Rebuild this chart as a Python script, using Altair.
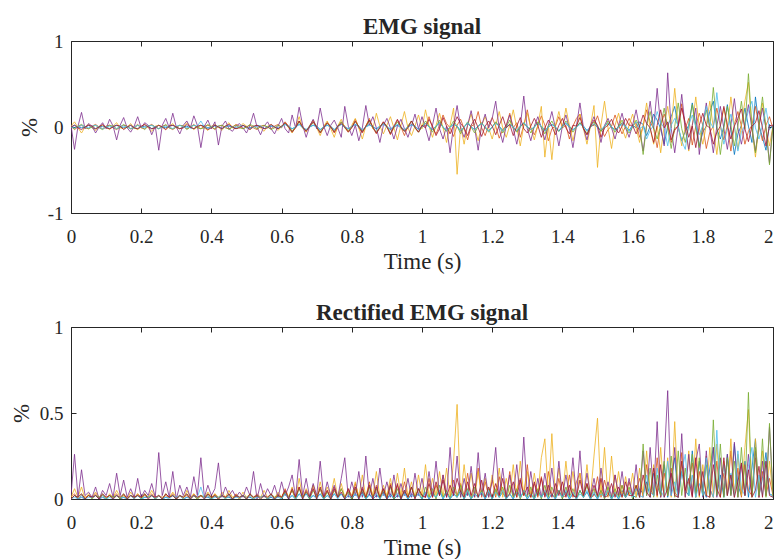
import altair as alt
import pandas as pd

# ---- data, one sample every 0.01 s from 0 to 2 s ----
DT = 0.01
NAMES = ["1", "2", "3", "4", "5", "6", "7"]
COLORS = ["#0072BD", "#D95319", "#EDB120", "#7E2F8E", "#77AC30", "#4DBEEE", "#A2142F"]
X_TICKS = [0, 0.2, 0.4, 0.6, 0.8, 1, 1.2, 1.4, 1.6, 1.8, 2]
Y_TICKS_EMG = [-1, 0, 1]
Y_TICKS_RECT = [0, 0.5, 1]

blue = [
    0.00, 0.02, 0.00, -0.01, 0.00, 0.02, -0.01, -0.02, 0.00, 0.01, 0.00, -0.02, 0.01, 0.02, 0.00, -0.01, 0.00, 0.02, -0.01, -0.02,
    0.00, 0.01, 0.01, -0.02, 0.00, 0.02, 0.00, -0.01, 0.01, 0.02, 0.00, -0.02, 0.00, 0.01, -0.01, -0.02, 0.00, 0.02, 0.01, -0.01,
    0.00, 0.02, 0.00, -0.02, 0.01, 0.01, 0.00, -0.02, 0.00, 0.02, -0.01, -0.01, 0.00, 0.02, 0.01, -0.02, 0.00, 0.01, 0.00, -0.02,
    0.01, 0.03, 0.00, -0.02, 0.00, 0.03, -0.01, -0.03, 0.00, 0.02, 0.01, -0.03, 0.00, 0.02, 0.00, -0.03, 0.01, 0.03, 0.00, -0.02,
    0.00, 0.03, 0.01, -0.04, 0.00, 0.03, 0.00, -0.02, 0.01, 0.04, 0.00, -0.03, 0.00, 0.02, -0.01, -0.04, 0.00, 0.03, 0.01, -0.03,
    0.00, 0.04, 0.00, -0.03, 0.01, 0.05, 0.00, -0.04, 0.00, 0.03, 0.01, -0.05, 0.00, 0.04, 0.00, -0.03, 0.01, 0.04, 0.00, -0.04,
    0.00, 0.05, 0.01, -0.04, 0.00, 0.03, 0.00, -0.05, 0.01, 0.04, 0.00, -0.03, 0.00, 0.05, 0.01, -0.04, 0.00, 0.03, 0.00, -0.05,
    0.01, 0.04, 0.00, -0.03, 0.00, 0.05, 0.01, -0.04, 0.00, 0.03, 0.00, -0.05, 0.01, 0.04, 0.00, -0.03, 0.00, 0.05, 0.01, -0.04,
    0.02, -0.01, 0.06, 0.03, -0.10, 0.01, 0.15, 0.08, -0.02, -0.20, 0.01, 0.12, 0.24, -0.01, -0.16, -0.05, 0.02, 0.28, 0.03, -0.22,
    -0.06, 0.01, 0.18, 0.30, -0.02, -0.14, 0.01, 0.26, -0.03, -0.32, -0.08, 0.02, 0.22, 0.01, -0.18, 0.35, 0.02, -0.12, -0.27, 0.03,
    -0.02,
]
orange = [
    0.01, -0.03, 0.00, 0.02, -0.01, -0.02, 0.01, 0.03, 0.00, -0.02, 0.01, 0.02, -0.01, -0.03, 0.00, 0.02, 0.01, -0.02, 0.00, 0.03,
    -0.01, -0.02, 0.01, 0.03, 0.00, -0.02, 0.01, 0.02, -0.01, -0.03, 0.00, 0.02, 0.01, -0.02, 0.00, 0.03, -0.01, -0.02, 0.01, 0.02,
    0.00, -0.03, 0.01, 0.02, -0.01, -0.02, 0.00, 0.03, 0.01, -0.02, 0.00, 0.02, -0.01, -0.03, 0.01, 0.02, 0.00, -0.02, 0.01, 0.03,
    -0.01, 0.06, 0.01, -0.05, 0.00, 0.07, -0.01, -0.04, 0.01, 0.08, -0.01, -0.06, 0.00, 0.05, 0.01, -0.07, -0.01, 0.06, 0.01, -0.05,
    0.00, 0.09, -0.01, -0.07, 0.01, 0.10, -0.01, -0.08, 0.00, 0.06, 0.01, -0.09, -0.01, 0.08, 0.00, -0.10, 0.01, 0.07, -0.01, -0.06,
    0.02, 0.01, 0.12, -0.01, -0.08, 0.02, 0.14, 0.04, -0.01, -0.11, 0.02, 0.09, -0.02, -0.15, 0.01, 0.03, 0.18, -0.01, -0.10, 0.02,
    0.11, 0.01, -0.13, -0.03, 0.02, 0.16, -0.01, 0.05, -0.12, 0.02, 0.20, -0.01, -0.09, 0.01, 0.13, 0.02, -0.16, -0.02, 0.01, 0.12,
    -0.01, 0.02, -0.14, 0.01, 0.10, 0.15, -0.02, -0.09, 0.01, 0.02, 0.13, -0.01, -0.11, -0.03, 0.01, 0.14, 0.02, -0.08, 0.01, 0.10,
    0.02, 0.05, -0.12, 0.01, 0.20, 0.06, -0.02, -0.24, 0.01, 0.15, 0.02, -0.18, -0.04, 0.01, 0.27, -0.02, 0.10, -0.21, 0.01, 0.16,
    0.02, -0.25, -0.06, 0.01, 0.22, 0.01, -0.15, 0.02, -0.28, 0.03, 0.18, 0.01, -0.20, -0.05, 0.02, 0.24, 0.01, -0.16, 0.02, 0.12,
    -0.02,
]
yellow = [
    0.01, 0.06, -0.01, -0.07, 0.00, 0.03, -0.01, -0.04, 0.01, 0.02, 0.00, -0.03, 0.01, 0.05, -0.01, -0.02, 0.00, 0.04, -0.01, -0.03,
    0.00, 0.03, -0.01, -0.05, 0.01, 0.02, 0.00, -0.03, 0.01, 0.04, -0.01, -0.02, 0.00, 0.05, 0.01, -0.03, 0.00, 0.02, -0.01, -0.04,
    0.01, 0.03, 0.00, -0.04, 0.01, 0.05, -0.01, -0.02, 0.00, 0.04, 0.01, -0.03, 0.00, 0.02, -0.01, -0.05, 0.01, 0.03, 0.00, -0.04,
    0.01, 0.05, -0.01, -0.07, 0.00, 0.12, -0.01, -0.06, 0.02, 0.08, -0.01, -0.10, 0.01, 0.07, -0.02, -0.12, 0.01, 0.09, -0.01, -0.06,
    0.02, 0.10, -0.01, -0.14, 0.01, 0.09, -0.02, 0.16, 0.01, -0.08, 0.02, 0.12, -0.01, -0.15, 0.02, 0.18, -0.01, -0.10, 0.01, 0.14,
    -0.02, 0.20, 0.01, -0.12, 0.02, 0.16, -0.01, -0.18, 0.02, 0.22, -0.55, 0.01, -0.20, 0.02, 0.15, -0.01, -0.16, 0.02, 0.12, -0.01,
    -0.14, 0.02, 0.18, -0.01, -0.12, 0.02, 0.20, -0.01, -0.22, 0.02, 0.16, -0.01, -0.15, 0.02, 0.24, -0.35, 0.01, -0.38, 0.02, 0.18,
    -0.01, 0.22, 0.02, -0.16, 0.01, 0.15, -0.02, -0.20, 0.01, 0.25, -0.47, 0.02, 0.30, -0.01, -0.25, 0.02, 0.16, -0.01, -0.13, 0.02,
    0.15, -0.01, -0.18, 0.02, 0.28, -0.02, -0.20, 0.01, -0.30, 0.02, 0.24, -0.01, 0.45, 0.02, -0.22, 0.01, -0.28, 0.02, 0.35, -0.01,
    -0.20, 0.02, 0.30, -0.01, -0.32, 0.02, 0.22, -0.02, 0.35, 0.01, -0.26, 0.02, 0.30, 0.52, -0.02, -0.35, 0.01, 0.28, -0.02, -0.22,
    0.02,
]
purple = [
    0.02, -0.26, 0.01, 0.17, -0.02, 0.04, 0.01, -0.07, 0.00, 0.05, -0.02, 0.09, 0.01, -0.15, 0.02, 0.11, -0.01, -0.06, 0.01, 0.12,
    -0.01, 0.05, 0.02, -0.09, 0.01, -0.27, 0.02, 0.10, -0.01, 0.16, 0.00, -0.08, 0.02, 0.07, -0.01, 0.13, 0.02, -0.24, 0.01, 0.08,
    -0.02, 0.06, -0.21, 0.01, 0.07, -0.02, -0.05, 0.01, 0.04, -0.01, -0.07, 0.02, 0.16, 0.00, -0.09, 0.01, 0.06, -0.02, -0.08, 0.01,
    0.10, -0.02, -0.07, 0.14, -0.01, 0.23, 0.02, -0.12, 0.01, 0.09, -0.02, 0.22, 0.01, -0.10, 0.02, 0.08, -0.01, -0.12, 0.24, 0.01,
    -0.10, 0.02, -0.16, -0.01, 0.25, 0.02, 0.12, -0.01, -0.18, 0.02, 0.10, -0.01, -0.14, 0.01, 0.09, -0.02, -0.12, 0.01, 0.15, -0.02,
    0.12, -0.01, -0.16, 0.02, 0.22, -0.02, -0.14, 0.01, -0.30, 0.02, 0.25, -0.01, -0.12, 0.02, 0.19, -0.01, -0.27, 0.02, 0.15, -0.01,
    0.10, 0.30, -0.02, -0.18, 0.01, 0.14, -0.02, -0.20, 0.01, 0.36, -0.02, -0.16, 0.01, 0.12, -0.01, -0.15, 0.02, 0.18, -0.01, -0.22,
    0.01, 0.14, -0.02, -0.24, 0.01, 0.28, -0.01, -0.15, 0.02, 0.12, -0.01, -0.18, 0.02, 0.10, -0.01, -0.14, 0.02, 0.16, -0.01, -0.12,
    0.02, 0.20, -0.01, -0.28, 0.02, 0.30, -0.02, 0.45, 0.01, -0.22, 0.63, -0.02, -0.30, 0.02, 0.38, -0.01, -0.26, 0.02, 0.22, -0.32,
    0.01, 0.28, -0.02, -0.30, 0.01, 0.24, -0.02, -0.26, 0.02, 0.33, -0.01, -0.20, 0.02, 0.26, -0.02, -0.28, 0.01, 0.22, -0.02, -0.42,
    0.03,
]
green = [
    0.00, -0.02, 0.01, 0.03, 0.00, -0.02, 0.00, 0.02, -0.01, -0.03, 0.00, 0.02, 0.01, -0.02, 0.00, 0.03, 0.00, -0.02, -0.01, 0.02,
    0.00, -0.03, 0.01, 0.02, 0.00, -0.02, 0.00, 0.03, -0.01, -0.02, 0.00, 0.02, 0.01, -0.03, 0.00, 0.02, 0.00, -0.02, -0.01, 0.03,
    0.00, -0.02, 0.01, 0.02, 0.00, -0.03, 0.00, 0.02, -0.01, -0.02, 0.00, 0.03, 0.01, -0.02, 0.00, 0.02, 0.00, -0.03, -0.01, 0.02,
    0.00, 0.04, 0.01, -0.05, 0.00, 0.06, -0.01, -0.04, 0.00, 0.05, 0.01, -0.06, 0.00, 0.04, 0.00, -0.05, 0.01, 0.06, -0.01, -0.04,
    0.00, 0.06, 0.01, -0.05, 0.00, 0.07, -0.01, -0.06, 0.00, 0.05, 0.01, -0.07, 0.00, 0.06, 0.00, -0.05, 0.01, 0.07, -0.01, -0.06,
    0.00, 0.07, 0.01, -0.06, 0.00, 0.08, -0.01, -0.05, 0.00, 0.07, 0.01, -0.08, 0.00, 0.06, 0.00, -0.07, 0.01, 0.05, -0.01, -0.06,
    0.00, 0.06, 0.01, -0.07, 0.00, 0.08, -0.01, -0.06, 0.00, 0.05, 0.01, -0.07, 0.00, 0.06, 0.00, -0.08, 0.01, 0.07, -0.01, -0.05,
    0.00, 0.07, 0.01, -0.06, 0.00, 0.05, -0.01, -0.08, 0.00, 0.06, 0.01, -0.05, 0.00, 0.07, 0.00, -0.06, 0.01, 0.08, -0.01, -0.07,
    0.00, 0.08, 0.01, -0.32, 0.02, 0.18, -0.01, -0.14, 0.02, 0.22, -0.02, -0.25, 0.01, 0.28, -0.02, -0.18, 0.02, 0.26, -0.01, -0.24,
    0.02, 0.20, -0.01, 0.46, 0.02, -0.32, -0.01, 0.24, 0.02, -0.22, 0.01, 0.30, -0.02, 0.62, 0.01, -0.30, 0.02, 0.35, -0.01, -0.44,
    0.01,
]
cyan = [
    0.00, -0.01, 0.00, 0.02, 0.00, -0.01, 0.01, 0.02, 0.00, -0.02, 0.00, 0.01, 0.00, -0.02, 0.01, 0.01, 0.00, -0.02, 0.00, 0.02,
    0.00, -0.01, 0.01, 0.02, 0.00, -0.02, 0.00, 0.01, 0.00, -0.02, 0.01, 0.02, 0.00, -0.01, 0.00, 0.02, 0.01, 0.07, 0.00, -0.02,
    0.00, 0.01, 0.01, -0.02, 0.00, 0.02, 0.00, -0.01, 0.01, 0.02, 0.00, -0.02, 0.00, 0.01, 0.01, -0.02, 0.00, 0.02, 0.00, -0.01,
    0.00, 0.03, 0.01, -0.02, 0.00, 0.03, 0.00, -0.03, 0.01, 0.02, 0.00, -0.03, 0.00, 0.02, 0.01, -0.03, 0.00, 0.03, 0.00, -0.02,
    0.01, 0.03, 0.00, -0.03, 0.00, 0.02, 0.01, -0.03, 0.00, 0.03, 0.00, -0.02, 0.01, 0.03, 0.00, -0.03, 0.00, 0.02, 0.01, -0.03,
    0.00, 0.04, 0.00, -0.03, 0.01, 0.05, 0.00, -0.04, 0.00, 0.03, 0.01, -0.04, 0.00, 0.05, 0.00, -0.03, 0.01, 0.04, 0.00, -0.05,
    0.00, 0.04, 0.01, -0.05, 0.00, 0.03, 0.00, -0.04, 0.01, 0.05, 0.00, -0.03, 0.00, 0.04, 0.01, -0.05, 0.00, 0.03, 0.00, -0.04,
    0.01, 0.05, 0.00, -0.04, 0.00, 0.03, 0.01, -0.05, 0.00, 0.04, 0.00, -0.03, 0.01, 0.05, 0.00, -0.04, 0.00, 0.03, 0.01, -0.05,
    0.01, 0.06, -0.02, 0.01, -0.14, -0.04, 0.02, 0.18, 0.05, -0.01, -0.22, 0.02, 0.10, 0.01, -0.16, -0.26, 0.02, 0.14, 0.01, -0.09,
    0.02, 0.24, 0.06, -0.01, 0.40, 0.03, -0.20, -0.02, 0.15, 0.01, -0.28, -0.06, 0.02, 0.19, 0.30, -0.01, -0.14, 0.02, 0.22, -0.03,
    0.01,
]
darkred = [
    0.00, 0.02, -0.01, -0.03, 0.00, 0.02, 0.01, -0.02, 0.00, 0.03, -0.01, -0.02, 0.00, 0.02, 0.01, -0.03, 0.00, 0.02, -0.01, -0.02,
    0.01, 0.03, 0.00, -0.02, -0.01, 0.02, 0.00, -0.03, 0.01, 0.02, 0.00, -0.02, -0.01, 0.03, 0.00, -0.02, 0.01, 0.02, 0.00, -0.03,
    -0.01, 0.02, 0.00, -0.02, 0.01, 0.03, 0.00, -0.02, -0.01, 0.02, 0.00, -0.03, 0.01, 0.02, 0.00, -0.02, -0.01, 0.03, 0.00, -0.02,
    0.01, 0.05, 0.00, -0.06, -0.01, 0.07, 0.00, -0.05, 0.01, 0.06, 0.00, -0.07, -0.01, 0.05, 0.00, -0.06, 0.01, 0.04, 0.00, -0.06,
    -0.01, 0.07, 0.00, -0.06, 0.01, 0.08, 0.00, -0.07, -0.01, 0.06, 0.00, -0.08, 0.01, 0.09, 0.00, -0.05, -0.01, 0.07, 0.00, -0.06,
    0.02, -0.01, 0.09, 0.01, -0.10, -0.02, 0.11, 0.01, -0.08, 0.02, 0.12, 0.04, -0.01, -0.10, 0.02, 0.09, -0.01, -0.11, 0.01, 0.07,
    0.01, -0.09, 0.02, 0.12, -0.01, 0.03, -0.10, 0.01, 0.11, -0.02, -0.07, 0.01, 0.10, 0.02, -0.12, -0.01, 0.08, 0.01, -0.09, 0.02,
    0.10, -0.01, -0.08, 0.02, 0.01, 0.11, -0.02, -0.09, 0.01, 0.08, 0.02, -0.12, -0.01, 0.02, 0.09, -0.01, -0.07, 0.01, 0.10, 0.02,
    0.02, -0.08, 0.01, 0.14, 0.04, -0.01, -0.18, 0.02, 0.20, -0.01, 0.06, -0.15, -0.02, 0.01, 0.22, 0.05, -0.12, 0.01, -0.24, 0.02,
    0.16, 0.02, -0.01, -0.20, -0.06, 0.01, 0.24, 0.02, -0.14, 0.01, 0.10, 0.21, -0.02, -0.17, 0.01, 0.05, 0.19, -0.01, -0.22, 0.02,
    0.01,
]

SERIES = [blue, orange, yellow, purple, green, cyan, darkred]

rows = []
for name, vals in zip(NAMES, SERIES):
    for i, v in enumerate(vals):
        rows.append({"t": round(i * DT, 2), "v": v, "s": name})
df = pd.DataFrame(rows)

# ---- styling ----
FONT = "Liberation Serif"
INK = "#262626"
TICK = 5
LABEL_EXPR = "'' + datum.value"


def x_bottom():
    return alt.Axis(orient="bottom", values=X_TICKS, labelExpr=LABEL_EXPR, offset=-TICK,
                    domain=False, grid=False, tickSize=TICK, tickColor=INK,
                    labelColor=INK, labelFont=FONT, labelFontSize=19, labelPadding=14,
                    labelFlush=False,
                    labelAlign={"expr": "datum.value == 2 ? 'right' : 'center'"},
                    title="Time (s)", titleFont=FONT, titleFontSize=23,
                    titleFontWeight="normal", titleColor=INK, titlePadding=4)


def x_top():
    return alt.Axis(orient="top", values=X_TICKS, offset=-TICK, domain=False, grid=False,
                    labels=False, tickSize=TICK, tickColor=INK, title=None, minExtent=0)


def y_left(ticks):
    return alt.Axis(orient="left", values=ticks, labelExpr=LABEL_EXPR, offset=-TICK,
                    domain=False, grid=False, tickSize=TICK, tickColor=INK,
                    labelColor=INK, labelFont=FONT, labelFontSize=19, labelPadding=8,
                    title="%", titleFont=FONT, titleFontSize=23, titleFontWeight="normal",
                    titleColor=INK, titlePadding=6)


def y_right(ticks):
    return alt.Axis(orient="right", values=ticks, offset=-TICK, domain=False, grid=False,
                    labels=False, tickSize=TICK, tickColor=INK, title=None, minExtent=0)


W, H = 702, 172
xscale = alt.Scale(domain=[0, 2], nice=False, zero=False)
cscale = alt.Scale(domain=NAMES, range=COLORS)


def panel(title, field, ydomain, yticks):
    yscale = alt.Scale(domain=ydomain, nice=False, zero=False)
    base = alt.Chart(df)
    if field == "a":
        base = base.transform_calculate(a="abs(datum.v)")
    lines = base.mark_line(strokeWidth=0.8, clip=True).encode(
        x=alt.X("t:Q", scale=xscale, axis=x_bottom()),
        y=alt.Y(f"{field}:Q", scale=yscale, axis=y_left(yticks)),
        color=alt.Color("s:N", scale=cscale, legend=None),
    )
    frame = base.mark_line(strokeOpacity=0).encode(
        x=alt.X("t:Q", scale=xscale, axis=x_top()),
        y=alt.Y(f"{field}:Q", scale=yscale, axis=y_right(yticks)),
    )
    return alt.layer(lines, frame).resolve_axis(x="independent", y="independent").properties(
        width=W, height=H,
        title=alt.Title(title, font=FONT, fontSize=23, fontWeight="bold", color=INK,
                        anchor="middle", offset=-7),
    )


top = panel("EMG signal", "v", [-1, 1], Y_TICKS_EMG)
bottom = panel("Rectified EMG signal", "a", [0, 1], Y_TICKS_RECT)

chart = alt.vconcat(top, bottom, spacing=27).properties(
    padding={"left": 1, "top": 7, "right": 0, "bottom": 0},
    background="white",
).configure_view(stroke=INK, strokeWidth=1)

chart.save("out.html", embed_options={"renderer": "svg", "actions": False})
